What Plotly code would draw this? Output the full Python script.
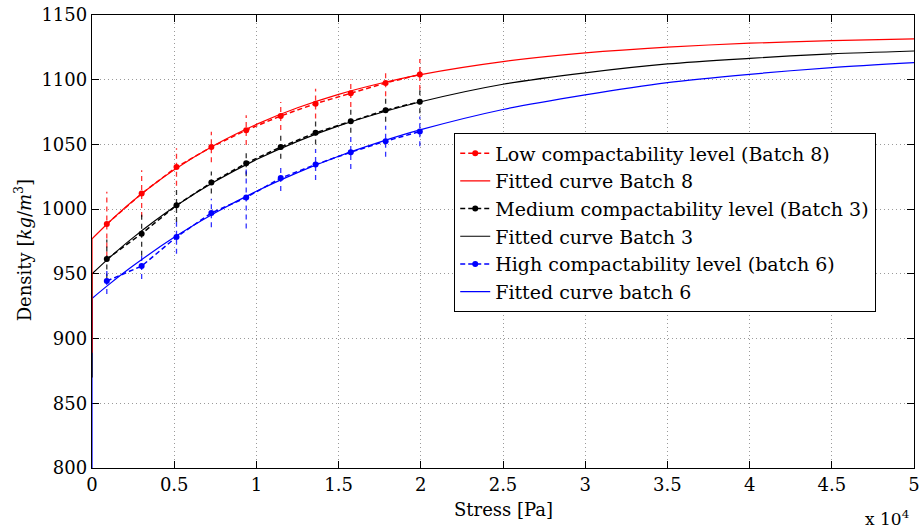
import plotly.graph_objects as go

# ---------------- data ----------------
stress = [900, 3020, 5140, 7260, 9380, 11480, 13600, 15740, 17860, 19940]

dens_low = [988.5, 1012, 1032.5, 1048, 1061, 1072, 1081.5, 1089.5, 1097.5, 1104]
err_low = [25, 18, 14.5, 11.7, 11.5, 10.8, 11.5, 10.6, 10.3, 12]

dens_med = [961.5, 981, 1003, 1020.5, 1035.5, 1048, 1059, 1068, 1076.5, 1083]
err_med = [15, 17, 13, 8.5, 10, 9, 9, 9, 9, 9]

dens_high = [944.5, 956, 978.5, 997, 1009, 1024, 1034.5, 1044, 1052.5, 1060]
err_high = [10, 10, 13, 11, 24, 10, 12, 13, 12, 11.5]

fit_x = [0, 1000, 2500, 5000, 7500, 10000, 12500, 15000, 17500, 20000,
         25000, 30000, 35000, 40000, 45000, 50000]
fit_low = [977, 989.5, 1006.5, 1030.4, 1049.8, 1065.5, 1078.3, 1088.7, 1097.1, 1104,
           1114, 1120.7, 1125.2, 1128.2, 1130.2, 1131.5]
fit_med = [950, 961.8, 978, 1001.6, 1021.5, 1038.3, 1052.4, 1064.3, 1074.3, 1083,
           1096.5, 1105.3, 1112.2, 1116.5, 1120, 1122.2]
fit_high = [931, 941.5, 956.2, 978.2, 997.2, 1013.8, 1028.2, 1040.9, 1051.8, 1061.4,
            1077, 1088.3, 1097.8, 1104.2, 1109.4, 1113.2]
# lower end of the vertical start of each fitted curve at zero stress
fit_start_low = [889, 870, 790]

x_tickvals = [0, 5000, 10000, 15000, 20000, 25000, 30000, 35000, 40000, 45000, 50000]
x_ticktext = ["0", "0.5", "1", "1.5", "2", "2.5", "3", "3.5", "4", "4.5", "5"]
y_tickvals = [800, 850, 900, 950, 1000, 1050, 1100, 1150]

names = ["Low compactability level (Batch 8)", "Fitted curve Batch 8",
         "Medium compactability level (Batch 3)", "Fitted curve Batch 3",
         "High compactability level (batch 6)", "Fitted curve batch 6"]

RED, BLACK, BLUE = "#ff0000", "#000000", "#0000ff"
FONT = "DejaVu Serif"

series = [
    (dens_low, err_low, fit_low, RED),
    (dens_med, err_med, fit_med, BLACK),
    (dens_high, err_high, fit_high, BLUE),
]

fig = go.Figure()

# fitted curves (blue first so the red start stays visible)
for idx in [2, 1, 0]:
    d, e, f, c = series[idx]
    fig.add_trace(go.Scatter(x=[fit_x[0], fit_x[0]], y=[fit_start_low[idx], f[0]],
                             mode="lines", line=dict(color=c, width=1.2),
                             showlegend=False, hoverinfo="skip"))
    fig.add_trace(go.Scatter(x=fit_x, y=f, mode="lines", name=names[2 * idx + 1],
                             line=dict(color=c, width=1.2, shape="spline", smoothing=0.8),
                             legendrank=2 * idx + 2))

# error bars (dashed) and data lines
for idx in [0, 1, 2]:
    d, e, f, c = series[idx]
    ex, ey = [], []
    for xi, yi, ei in zip(stress, d, e):
        ex += [xi, xi, None]
        ey += [yi - ei, yi + ei, None]
    fig.add_trace(go.Scatter(x=ex, y=ey, mode="lines",
                             line=dict(color=c, width=1.3, dash="5px,4px"),
                             showlegend=False, hoverinfo="skip", opacity=0.8))
for idx in [0, 1, 2]:
    d, e, f, c = series[idx]
    fig.add_trace(go.Scatter(x=stress, y=d, mode="lines+markers", name=names[2 * idx],
                             line=dict(color=c, width=1.5, dash="5px,3px"),
                             marker=dict(color=c, size=6, symbol="circle"),
                             legendrank=2 * idx + 1))

axis_common = dict(
    showline=True, linecolor="black", linewidth=1.4, mirror="ticks",
    ticks="inside", ticklen=7, tickwidth=1.2, tickcolor="black",
    showgrid=True, gridcolor="#9a9a9a", gridwidth=1, griddash="1px,3px",
    zeroline=False, layer="below traces", automargin=False,
    tickfont=dict(family=FONT, size=18, color="black"),
    ticklabeloverflow="allow",
)

fig.update_xaxes(range=[0, 50000], tickvals=x_tickvals, ticktext=x_ticktext, **axis_common)
fig.update_yaxes(range=[800, 1150], tickvals=y_tickvals, **axis_common)

fig.update_layout(
    width=920, height=532,
    margin=dict(l=91.5, r=6, t=15, b=64),
    paper_bgcolor="white", plot_bgcolor="white",
    font=dict(family=FONT, size=18, color="black"),
    legend=dict(x=0.4403, y=0.7395, xanchor="left", yanchor="top",
                bgcolor="white", bordercolor="black", borderwidth=1.3,
                font=dict(family=FONT, size=19, color="black"),
                tracegroupgap=0, itemwidth=30),
    annotations=[
        dict(text="Stress [Pa]", xref="paper", yref="paper", x=0.5, y=-0.092,
             xanchor="center", yanchor="middle", showarrow=False,
             font=dict(family=FONT, size=18)),
        dict(text="x 10<sup>4</sup>", xref="paper", yref="paper", x=0.9964, y=-0.11,
             xanchor="right", yanchor="middle", showarrow=False,
             font=dict(family=FONT, size=17)),
        dict(text="Density [<i>kg</i>/<i>m</i><sup>3</sup>]", xref="paper", yref="paper",
             x=-0.0842, y=0.48, xanchor="center", yanchor="middle", textangle=-90,
             showarrow=False, font=dict(family=FONT, size=18)),
    ],
    showlegend=True,
)

fig.write_html("out.html")
